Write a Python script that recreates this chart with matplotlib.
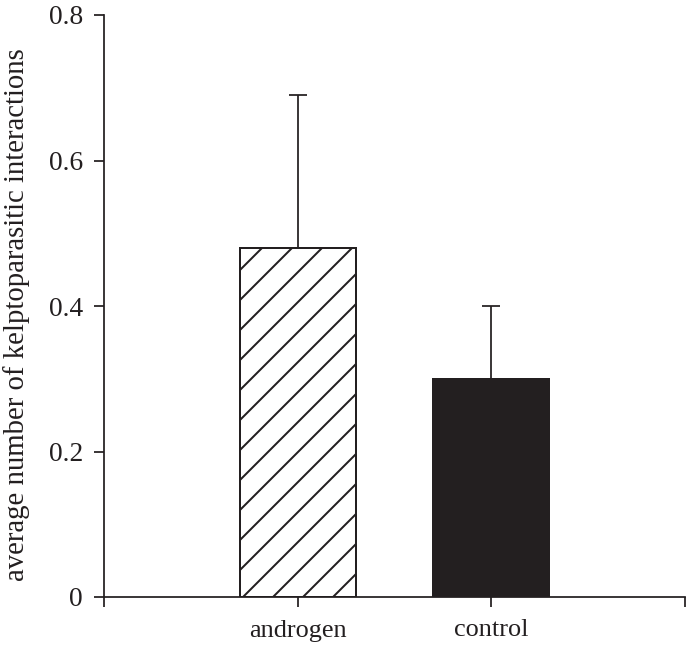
import matplotlib
matplotlib.use("Agg")
import matplotlib.pyplot as plt
import numpy as np

categories = ["androgen", "control"]
means = [0.48, 0.30]
err_upper = [0.21, 0.10]
yticks = [0, 0.2, 0.4, 0.6, 0.8]
ytick_labels = ["0", "0.2", "0.4", "0.6", "0.8"]

ink = "#231f20"
plt.rcParams["font.family"] = ["Liberation Serif", "DejaVu Serif"]
plt.rcParams["hatch.linewidth"] = 0.8
plt.rcParams["hatch.color"] = ink

DPI = 180
fig = plt.figure(figsize=(688 / DPI, 645 / DPI), dpi=DPI)
ax = fig.add_axes([104 / 688, 1 - 597 / 645, (685 - 104) / 688, (597 - 15) / 645])

x = np.arange(len(categories))
faces = ["white", ink]
hatches = ["//", None]
for xi, m, fc, h in zip(x, means, faces, hatches):
    ax.bar(xi, m, width=0.6, color=fc, edgecolor=ink, linewidth=0.8, hatch=h, zorder=2)
ax.errorbar(x, means, yerr=[np.zeros(len(means)), err_upper], fmt="none",
            ecolor=ink, elinewidth=0.7, capsize=3.6, capthick=0.7, zorder=1)

ax.set_xlim(-1, 2)
ax.set_ylim(0, 0.8)
ax.set_xticks([-1, 0, 1, 2])
ax.set_xticklabels([""] + categories + [""])
ax.set_yticks(yticks)
ax.set_yticklabels(ytick_labels)
for s in ["top", "right"]:
    ax.spines[s].set_visible(False)
for s in ["left", "bottom"]:
    ax.spines[s].set_linewidth(0.7)
    ax.spines[s].set_color(ink)
ax.tick_params(axis="both", direction="out", length=4, width=0.7, color=ink,
               labelsize=11, labelcolor=ink, pad=4.5)
ax.tick_params(axis="x", pad=5, labelsize=10.5)
ax.set_ylabel("average number of kelptoparasitic interactions", fontsize=11.5,
              color=ink)
ax.yaxis.set_label_coords(-0.127, 0.4845)

fig.savefig("out.png", dpi=DPI)
